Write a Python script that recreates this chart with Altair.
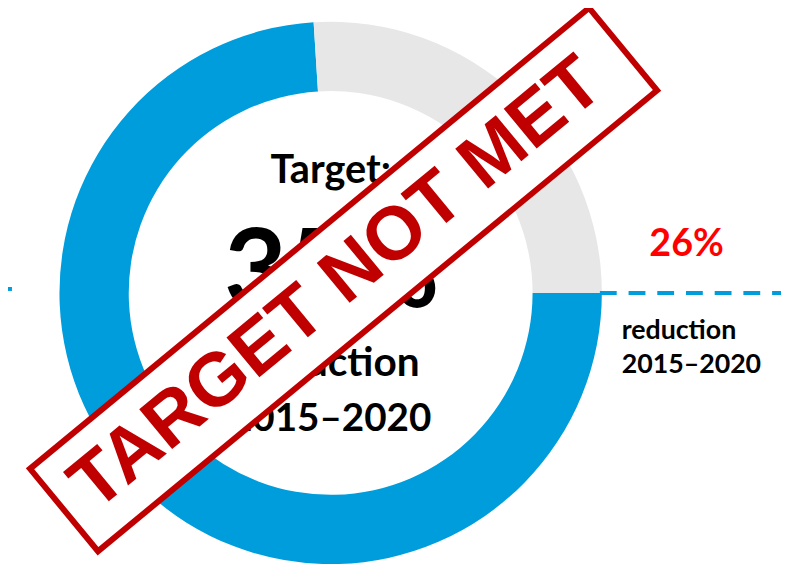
import math
import altair as alt
import pandas as pd

# Donut data
segments = ["Reduction achieved", "Remaining to target"]
shares = [74, 26]
seg_colors = ["#009DDC", "#E7E7E7"]

# Texts
center_title = "Target:"
center_value = "35%"
center_sub = ["reduction", "2015–2020"]
side_value = "26%"
side_sub = ["reduction", "2015–2020"]
stamp_text = "TARGET NOT MET"

BLUE = "#009DDC"
RED_STAMP = "#C00000"
CX, CY = 326, 285

donut = alt.Chart(pd.DataFrame({"seg": segments, "share": shares, "ord": [0, 1]})).mark_arc(
    radius=274, radius2=204
).encode(
    theta=alt.Theta("share:Q", stack=True,
                    scale=alt.Scale(domain=[0, 100], range=[math.pi / 2, math.pi / 2 + 2 * math.pi])),
    color=alt.Color("seg:N", scale=alt.Scale(domain=segments, range=seg_colors), legend=None),
    order=alt.Order("ord:Q"),
    x=alt.value(CX),
    y=alt.value(CY),
)


def label(text, x, y, size, color="black", font="Lato", align="center", angle=0, baseline="alphabetic"):
    return alt.Chart(pd.DataFrame({"t": [text]})).mark_text(
        x=x, y=y, fontSize=size, font=font, fontWeight="bold", color=color,
        align=align, baseline=baseline, angle=angle
    ).encode(text="t:N")


texts = [
    label(center_title, CX, 174, 40),
    label(center_value, CX + 1, 299, 110),
    label(center_sub[0], CX + 2, 369, 41),
    label(center_sub[1], CX, 424, 39),
    label(side_value, 648, 248, 38, color="#FF0000", align="left"),
    label(side_sub[0], 620, 332, 27, align="left"),
    label(side_sub[1], 620, 366, 27, align="left"),
]

dash = alt.Chart(pd.DataFrame({"k": [0]})).mark_rule(
    color=BLUE, strokeWidth=4, strokeDash=[17, 12]
).encode(x=alt.value(598), x2=alt.value(781), y=alt.value(285))

dash_left = alt.Chart(pd.DataFrame({"k": [0]})).mark_rule(
    color=BLUE, strokeWidth=4
).encode(x=alt.value(0), x2=alt.value(4), y=alt.value(281))

stamp_box = alt.Chart(pd.DataFrame({"k": [0]})).mark_point(
    shape="M-1,-0.1475L1,-0.1475L1,0.1475L-1,0.1475Z",
    size=535824, angle=320.5, filled=True, fill="white", stroke=RED_STAMP,
    strokeWidth=6, opacity=1, fillOpacity=1, strokeOpacity=1,
).encode(x=alt.value(339), y=alt.value(271.5))

stamp_label = label(stamp_text, 332, 276, 76, color=RED_STAMP, font="Liberation Sans",
                    angle=320.5, baseline="middle")

chart = alt.layer(donut, *texts, dash, dash_left, stamp_box, stamp_label).properties(
    width=781, height=556, padding=0, autosize=alt.AutoSizeParams(type="none")
).configure_view(stroke=None)

chart.save("out.html", embed_options={"renderer": "svg", "actions": False})
